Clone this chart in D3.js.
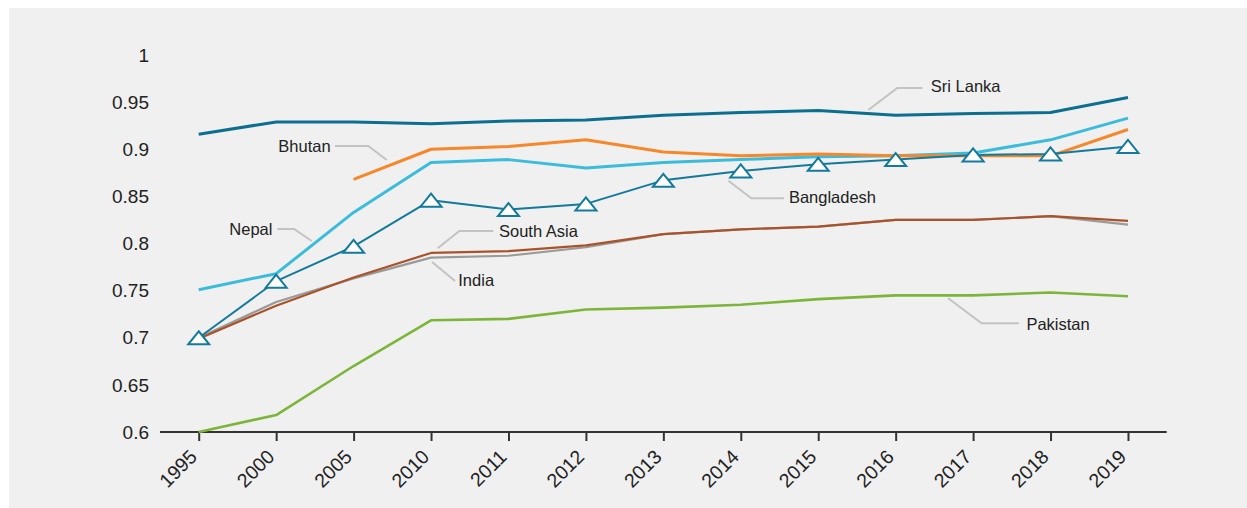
<!DOCTYPE html>
<html>
<head>
<meta charset="utf-8">
<script src="https://cdn.jsdelivr.net/npm/d3@7"></script>
<style>
  html, body { margin: 0; padding: 0; background: #ffffff; }
  svg { display: block; }
  text { font-family: "Liberation Sans", Arial, Helvetica, sans-serif; fill: #222; }
</style>
</head>
<body>
<svg id="chart" width="1247" height="508"></svg>
<script>
// ---- data ----
const years = ["1995","2000","2005","2010","2011","2012","2013","2014","2015","2016","2017","2018","2019"];
const yTicks = [0.6, 0.65, 0.7, 0.75, 0.8, 0.85, 0.9, 0.95, 1];

const sriLanka   = [0.916, 0.929, 0.929, 0.927, 0.930, 0.931, 0.936, 0.939, 0.941, 0.936, 0.938, 0.939, 0.955];
const bhutan     = [null, null, 0.868, 0.900, 0.903, 0.910, 0.897, 0.893, 0.895, 0.893, 0.893, 0.893, 0.921];
const nepal      = [0.751, 0.768, 0.833, 0.886, 0.889, 0.880, 0.886, 0.889, 0.892, 0.893, 0.896, 0.910, 0.933];
const bangladesh = [0.700, 0.760, 0.797, 0.846, 0.836, 0.842, 0.867, 0.877, 0.884, 0.889, 0.894, 0.895, 0.903];
const southAsia  = [0.699, 0.734, 0.764, 0.790, 0.792, 0.798, 0.810, 0.815, 0.818, 0.825, 0.825, 0.829, 0.824];
const india      = [0.700, 0.738, 0.763, 0.785, 0.787, 0.796, 0.810, 0.815, 0.818, 0.825, 0.825, 0.829, 0.820];
const pakistan   = [0.600, 0.618, 0.670, 0.7185, 0.720, 0.730, 0.732, 0.735, 0.741, 0.745, 0.745, 0.748, 0.744];

// label annotations in data space: leader points [yearIndex, value], text anchor [yearIndex, value]
const labelNames = ["Sri Lanka", "Bangladesh", "Bhutan", "Nepal", "South Asia", "India", "Pakistan"];
const labelLeaders = [
  [[8.647, 0.9416], [9.021, 0.965], [9.344, 0.965]],
  [[6.840, 0.8666], [7.136, 0.848], [7.557, 0.848]],
  [[1.760, 0.9034], [2.190, 0.9034], [2.428, 0.8886]],
  [[1.015, 0.8154], [1.231, 0.8154], [1.459, 0.8027]],
  [[3.804, 0.8133], [3.365, 0.8133], [3.086, 0.7949]],
  [[3.013, 0.7804], [3.310, 0.7602]],
  [[9.678, 0.7419], [10.110, 0.7153], [10.590, 0.7153]]
];
const labelAnchors = [
  [9.454, 0.9664], [7.621, 0.8486], [1.028, 0.9034], [0.395, 0.8154],
  [3.878, 0.8133], [3.352, 0.7613], [10.688, 0.7143]
];

// ---- layout ----
const W = 1247, H = 508;
const svg = d3.select("#chart");

svg.append("rect").attr("x", 9).attr("y", 8).attr("width", W - 9).attr("height", H - 8)
  .attr("fill", "#eff0ef");

const x = d3.scalePoint().domain(years).range([160, 1166.7]).padding(0.5);
const y = d3.scaleLinear().domain([0.6, 1]).range([432, 55]);
const xi = d3.scaleLinear().domain([0, years.length - 1]).range([x(years[0]), x(years[years.length - 1])]);

// y labels
svg.append("g").selectAll("text").data(yTicks).join("text")
  .attr("x", 149).attr("y", d => y(d)).attr("dy", "0.35em")
  .attr("text-anchor", "end").style("font-size", "19px")
  .text(d => String(+d.toFixed(2)));

// x axis
const xAxis = d3.axisBottom(x).tickSize(9).tickSizeOuter(0).tickPadding(6);
const gx = svg.append("g").attr("transform", "translate(0,432)").call(xAxis);
gx.select(".domain").attr("stroke", "#333").attr("stroke-width", 2)
  .attr("d", "M160,0H1166.7");
gx.selectAll(".tick line").attr("stroke", "#333").attr("stroke-width", 2);
gx.selectAll(".tick text")
  .attr("y", 0).attr("dy", 0)
  .attr("transform", "translate(-1,26) rotate(-45)")
  .attr("text-anchor", "end")
  .style("font-size", "19.5px")
  .style("font-family", "'Liberation Sans', Arial, sans-serif")
  .attr("fill", "#222");

// ---- series ----
const series = [
  { name: "Pakistan",   values: pakistan,   color: "#7db53a", width: 2.6 },
  { name: "India",      values: india,      color: "#9a9a9a", width: 2.2 },
  { name: "South Asia", values: southAsia,  color: "#a9532a", width: 2.2 },
  { name: "Nepal",      values: nepal,      color: "#3bbcda", width: 3 },
  { name: "Bhutan",     values: bhutan,     color: "#f6882b", width: 3 },
  { name: "Bangladesh", values: bangladesh, color: "#137a9b", width: 2 },
  { name: "Sri Lanka",  values: sriLanka,   color: "#0c6f90", width: 3 }
];

const line = d3.line()
  .defined(d => d.v != null)
  .x(d => x(d.year)).y(d => y(d.v));

svg.append("g").selectAll("path").data(series).join("path")
  .attr("fill", "none")
  .attr("stroke", d => d.color)
  .attr("stroke-width", d => d.width)
  .attr("stroke-linejoin", "round")
  .attr("d", d => line(d.values.map((v, i) => ({ year: years[i], v }))));

// triangle markers on Bangladesh
const tri = "M0,-6.5L10.5,6.5L-10.5,6.5Z";
svg.append("g").selectAll("path").data(bangladesh.map((v, i) => ({ year: years[i], v })))
  .join("path")
  .attr("d", tri)
  .attr("transform", d => `translate(${x(d.year)},${y(d.v)})`)
  .attr("fill", "#ffffff").attr("stroke", "#137a9b").attr("stroke-width", 2)
  .attr("stroke-linejoin", "miter");

// ---- labels ----
const leaderLine = d3.line().x(d => xi(d[0])).y(d => y(d[1]));
const gl = svg.append("g");
labelNames.forEach((name, k) => {
  gl.append("path").attr("d", leaderLine(labelLeaders[k]))
    .attr("fill", "none").attr("stroke", "#c3c3c3").attr("stroke-width", 2);
  gl.append("text")
    .attr("x", xi(labelAnchors[k][0])).attr("y", y(labelAnchors[k][1]))
    .attr("dy", "0.35em").style("font-size", "16.5px")
    .text(name);
});
</script>
</body>
</html>
